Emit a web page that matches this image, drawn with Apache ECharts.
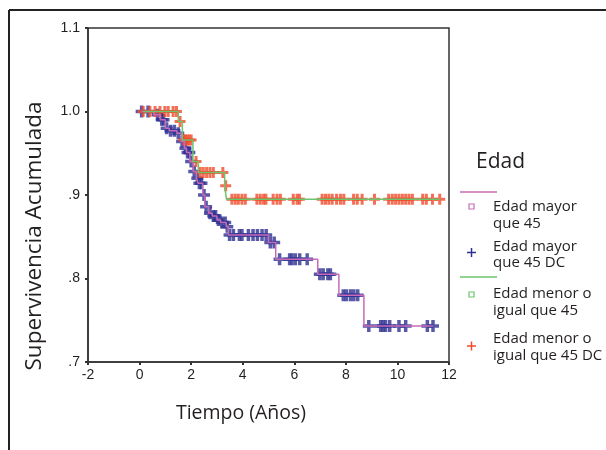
<!DOCTYPE html>
<html><head><meta charset="utf-8">
<script src="https://cdn.jsdelivr.net/npm/echarts@6/dist/echarts.min.js"></script>
<style>html,body{margin:0;padding:0;background:#fff}#c{width:606px;height:450px}</style>
</head><body><div id="c"></div>
<script>
// Kaplan-Meier: supervivencia acumulada por grupo de edad
var timeTicks = [-2, 0, 2, 4, 6, 8, 10, 12];
var survTickLabels = { '0.7': '.7', '0.8': '.8', '0.9': '.9', '1.0': '1.0', '1.1': '1.1' };

// Edad mayor que 45: tiempos de evento y supervivencia tras cada evento
var mayorEventT = [0.55, 0.80, 1.00, 1.15, 1.45, 1.62, 1.74, 1.82, 1.95, 2.08, 2.20, 2.27, 2.45, 2.53, 2.68, 2.82, 3.00, 3.14, 3.36, 3.44, 5.00, 5.28, 6.91, 7.73, 8.70];
var mayorEventS = [0.996, 0.990, 0.980, 0.977, 0.974, 0.964, 0.956, 0.951, 0.940, 0.928, 0.920, 0.914, 0.900, 0.886, 0.878, 0.875, 0.870, 0.867, 0.862, 0.852, 0.843, 0.823, 0.805, 0.780, 0.743];
// Edad mayor que 45: casos censurados (DC)
var mayorCensorT = [0.08, 0.33, 0.70, 0.86, 0.93, 1.05, 1.20, 1.35, 1.50, 1.65, 1.78, 1.86, 1.93, 2.00, 2.12, 2.24, 2.32, 2.40, 2.50, 2.58, 2.73, 2.86, 2.95, 3.06, 3.19, 3.32, 3.40, 3.49, 3.64, 3.87, 3.97, 4.22, 4.40, 4.57, 4.75, 4.91, 5.07, 5.22, 5.43, 5.82, 5.91, 6.04, 6.21, 6.50, 6.99, 7.12, 7.30, 7.40, 7.90, 8.02, 8.18, 8.31, 8.46, 8.89, 9.35, 9.44, 9.54, 9.70, 10.06, 10.32, 11.16, 11.38];

// Edad menor o igual que 45
var menorEventT = [1.50, 1.66, 2.07, 2.28, 3.30, 3.37];
var menorEventS = [0.988, 0.966, 0.940, 0.927, 0.911, 0.895];
var menorCensorT = [0.14, 0.40, 0.60, 0.79, 0.98, 1.11, 1.30, 1.43, 1.57, 1.72, 1.78, 1.85, 1.92, 2.00, 2.19, 2.35, 2.47, 2.60, 2.73, 2.86, 3.23, 3.34, 3.58, 3.71, 3.83, 3.97, 4.10, 4.55, 4.68, 4.81, 4.90, 5.18, 5.33, 5.46, 5.96, 6.11, 6.20, 7.08, 7.21, 7.34, 7.47, 7.64, 7.79, 7.92, 8.30, 8.44, 8.63, 9.11, 9.66, 9.80, 9.93, 10.06, 10.19, 10.32, 10.45, 10.58, 10.98, 11.12, 11.36, 11.64];

var COL_MAYOR_LINE = '#c76bb8';
var COL_MAYOR_MARK = '#2e3192';
var COL_MENOR_LINE = '#6cc46c';
var COL_MENOR_MARK = '#f04b2a';

function survAt(evT, evS, t) {
  var s = 1;
  for (var i = 0; i < evT.length; i++) { if (evT[i] <= t) s = evS[i]; }
  return s;
}
function stepLine(evT, evS, censT) {
  var start = Math.min(evT[0], censT[0]);
  var end = Math.max(evT[evT.length - 1], censT[censT.length - 1]);
  var pts = [[start, 1]];
  for (var i = 0; i < evT.length; i++) pts.push([evT[i], evS[i]]);
  pts.push([end, evS[evS.length - 1]]);
  return pts;
}
function censorPts(evT, evS, censT) {
  return censT.map(function (t) { return [t, survAt(evT, evS, t)]; });
}

// cruces de censura
var plusBold = 'path://M4.25,0h3.5v4.25h4.25v3.5h-4.25v4.25h-3.5v-4.25h-4.25v-3.5h4.25z';
var plus = 'path://M4,0h3v4h4v3h-4v4h-3v-4h-4v-3h4z';
var axisCol = '#333';
var txtCol = '#231f20';
var legendFont = '15px "Open Sans"';

var chart = echarts.init(document.getElementById('c'), null, { renderer: 'canvas' });

function legendCross(cx, cy, color) {
  return [
    { type: 'rect', shape: { x: cx - 4.5, y: cy - 0.75, width: 9, height: 1.5 }, style: { fill: color } },
    { type: 'rect', shape: { x: cx - 0.75, y: cy - 4.5, width: 1.5, height: 9 }, style: { fill: color } }
  ];
}
function legendText(x, y, t) {
  return { type: 'text', x: x, y: y, style: { text: t, font: legendFont, fill: txtCol, align: 'left', verticalAlign: 'middle' } };
}

var graphics = [
  // marco exterior
  { type: 'line', shape: { x1: 9, y1: 10, x2: 606, y2: 10 }, style: { stroke: '#222', lineWidth: 2 } },
  { type: 'line', shape: { x1: 9, y1: 10, x2: 9, y2: 450 }, style: { stroke: '#222', lineWidth: 2 } },
  // títulos de ejes
  { type: 'text', x: 35, y: 236, rotation: Math.PI / 2, style: { text: 'Supervivencia Acumulada', font: '22.5px "Open Sans"', fill: txtCol, align: 'center', verticalAlign: 'middle' } },
  { type: 'text', x: 241, y: 413, style: { text: 'Tiempo (Años)', font: '19.5px "Open Sans"', fill: txtCol, align: 'center', verticalAlign: 'middle' } },
  // leyenda
  { type: 'text', x: 476, y: 162, style: { text: 'Edad', font: '21px "Open Sans"', fill: txtCol, align: 'left', verticalAlign: 'middle' } },
  { type: 'line', shape: { x1: 460, y1: 192, x2: 497, y2: 192 }, style: { stroke: COL_MAYOR_LINE, lineWidth: 1.5 } },
  { type: 'rect', shape: { x: 469, y: 204, width: 5, height: 5 }, style: { fill: 'none', stroke: COL_MAYOR_LINE, lineWidth: 1.2 } },
  legendText(493, 207, 'Edad mayor'),
  legendText(493, 224, 'que 45'),
  legendText(493, 247, 'Edad mayor'),
  legendText(493, 263, 'que 45 DC'),
  { type: 'line', shape: { x1: 460, y1: 277, x2: 497, y2: 277 }, style: { stroke: COL_MENOR_LINE, lineWidth: 1.5 } },
  { type: 'rect', shape: { x: 469, y: 292, width: 5, height: 5 }, style: { fill: 'none', stroke: COL_MENOR_LINE, lineWidth: 1.2 } },
  legendText(493, 294, 'Edad menor o'),
  legendText(493, 311, 'igual que 45'),
  legendText(493, 339, 'Edad menor o'),
  legendText(493, 356, 'igual que 45 DC')
].concat(legendCross(471.5, 252.5, COL_MAYOR_MARK)).concat(legendCross(471.5, 346, COL_MENOR_MARK));

chart.setOption({
  backgroundColor: '#fff',
  animation: false,
  grid: { left: 88, top: 28, width: 361, height: 334, outerBoundsMode: 'none', show: true, borderColor: axisCol, borderWidth: 1.5, backgroundColor: '#fff' },
  xAxis: {
    type: 'value', min: timeTicks[0], max: timeTicks[timeTicks.length - 1], interval: 2,
    axisLine: { onZero: false, lineStyle: { color: axisCol, width: 1.5 } },
    axisTick: { show: true, length: 3, lineStyle: { color: axisCol, width: 2 } },
    axisLabel: { color: txtCol, fontSize: 14, fontFamily: 'Liberation Sans', margin: 6 },
    splitLine: { show: false }
  },
  yAxis: {
    type: 'value', min: 0.7, max: 1.1, interval: 0.1,
    axisLine: { show: true, onZero: false, lineStyle: { color: axisCol, width: 1.5 } },
    axisTick: { show: true, length: 3, lineStyle: { color: axisCol, width: 2 } },
    axisLabel: { color: txtCol, fontSize: 14, fontFamily: 'Liberation Sans', margin: 8,
      formatter: function (v) { return survTickLabels[v.toFixed(1)] || ''; } },
    splitLine: { show: false }
  },
  series: [
    { name: 'Edad mayor que 45', type: 'line', step: 'end', symbol: 'none', silent: true,
      data: stepLine(mayorEventT, mayorEventS, mayorCensorT), lineStyle: { color: COL_MAYOR_LINE, width: 1.5 } },
    { name: 'Edad menor o igual que 45', type: 'line', step: 'end', symbol: 'none', silent: true,
      data: stepLine(menorEventT, menorEventS, menorCensorT), lineStyle: { color: COL_MENOR_LINE, width: 1.5 } },
    { name: 'Edad mayor que 45 DC', type: 'scatter', symbol: plusBold, symbolSize: 12, silent: true,
      data: censorPts(mayorEventT, mayorEventS, mayorCensorT), itemStyle: { color: COL_MAYOR_MARK } },
    { name: 'Edad menor o igual que 45 DC', type: 'scatter', symbol: plus, symbolSize: 11, silent: true,
      data: censorPts(menorEventT, menorEventS, menorCensorT), itemStyle: { color: COL_MENOR_MARK } }
  ],
  graphic: graphics
});
</script></body></html>
